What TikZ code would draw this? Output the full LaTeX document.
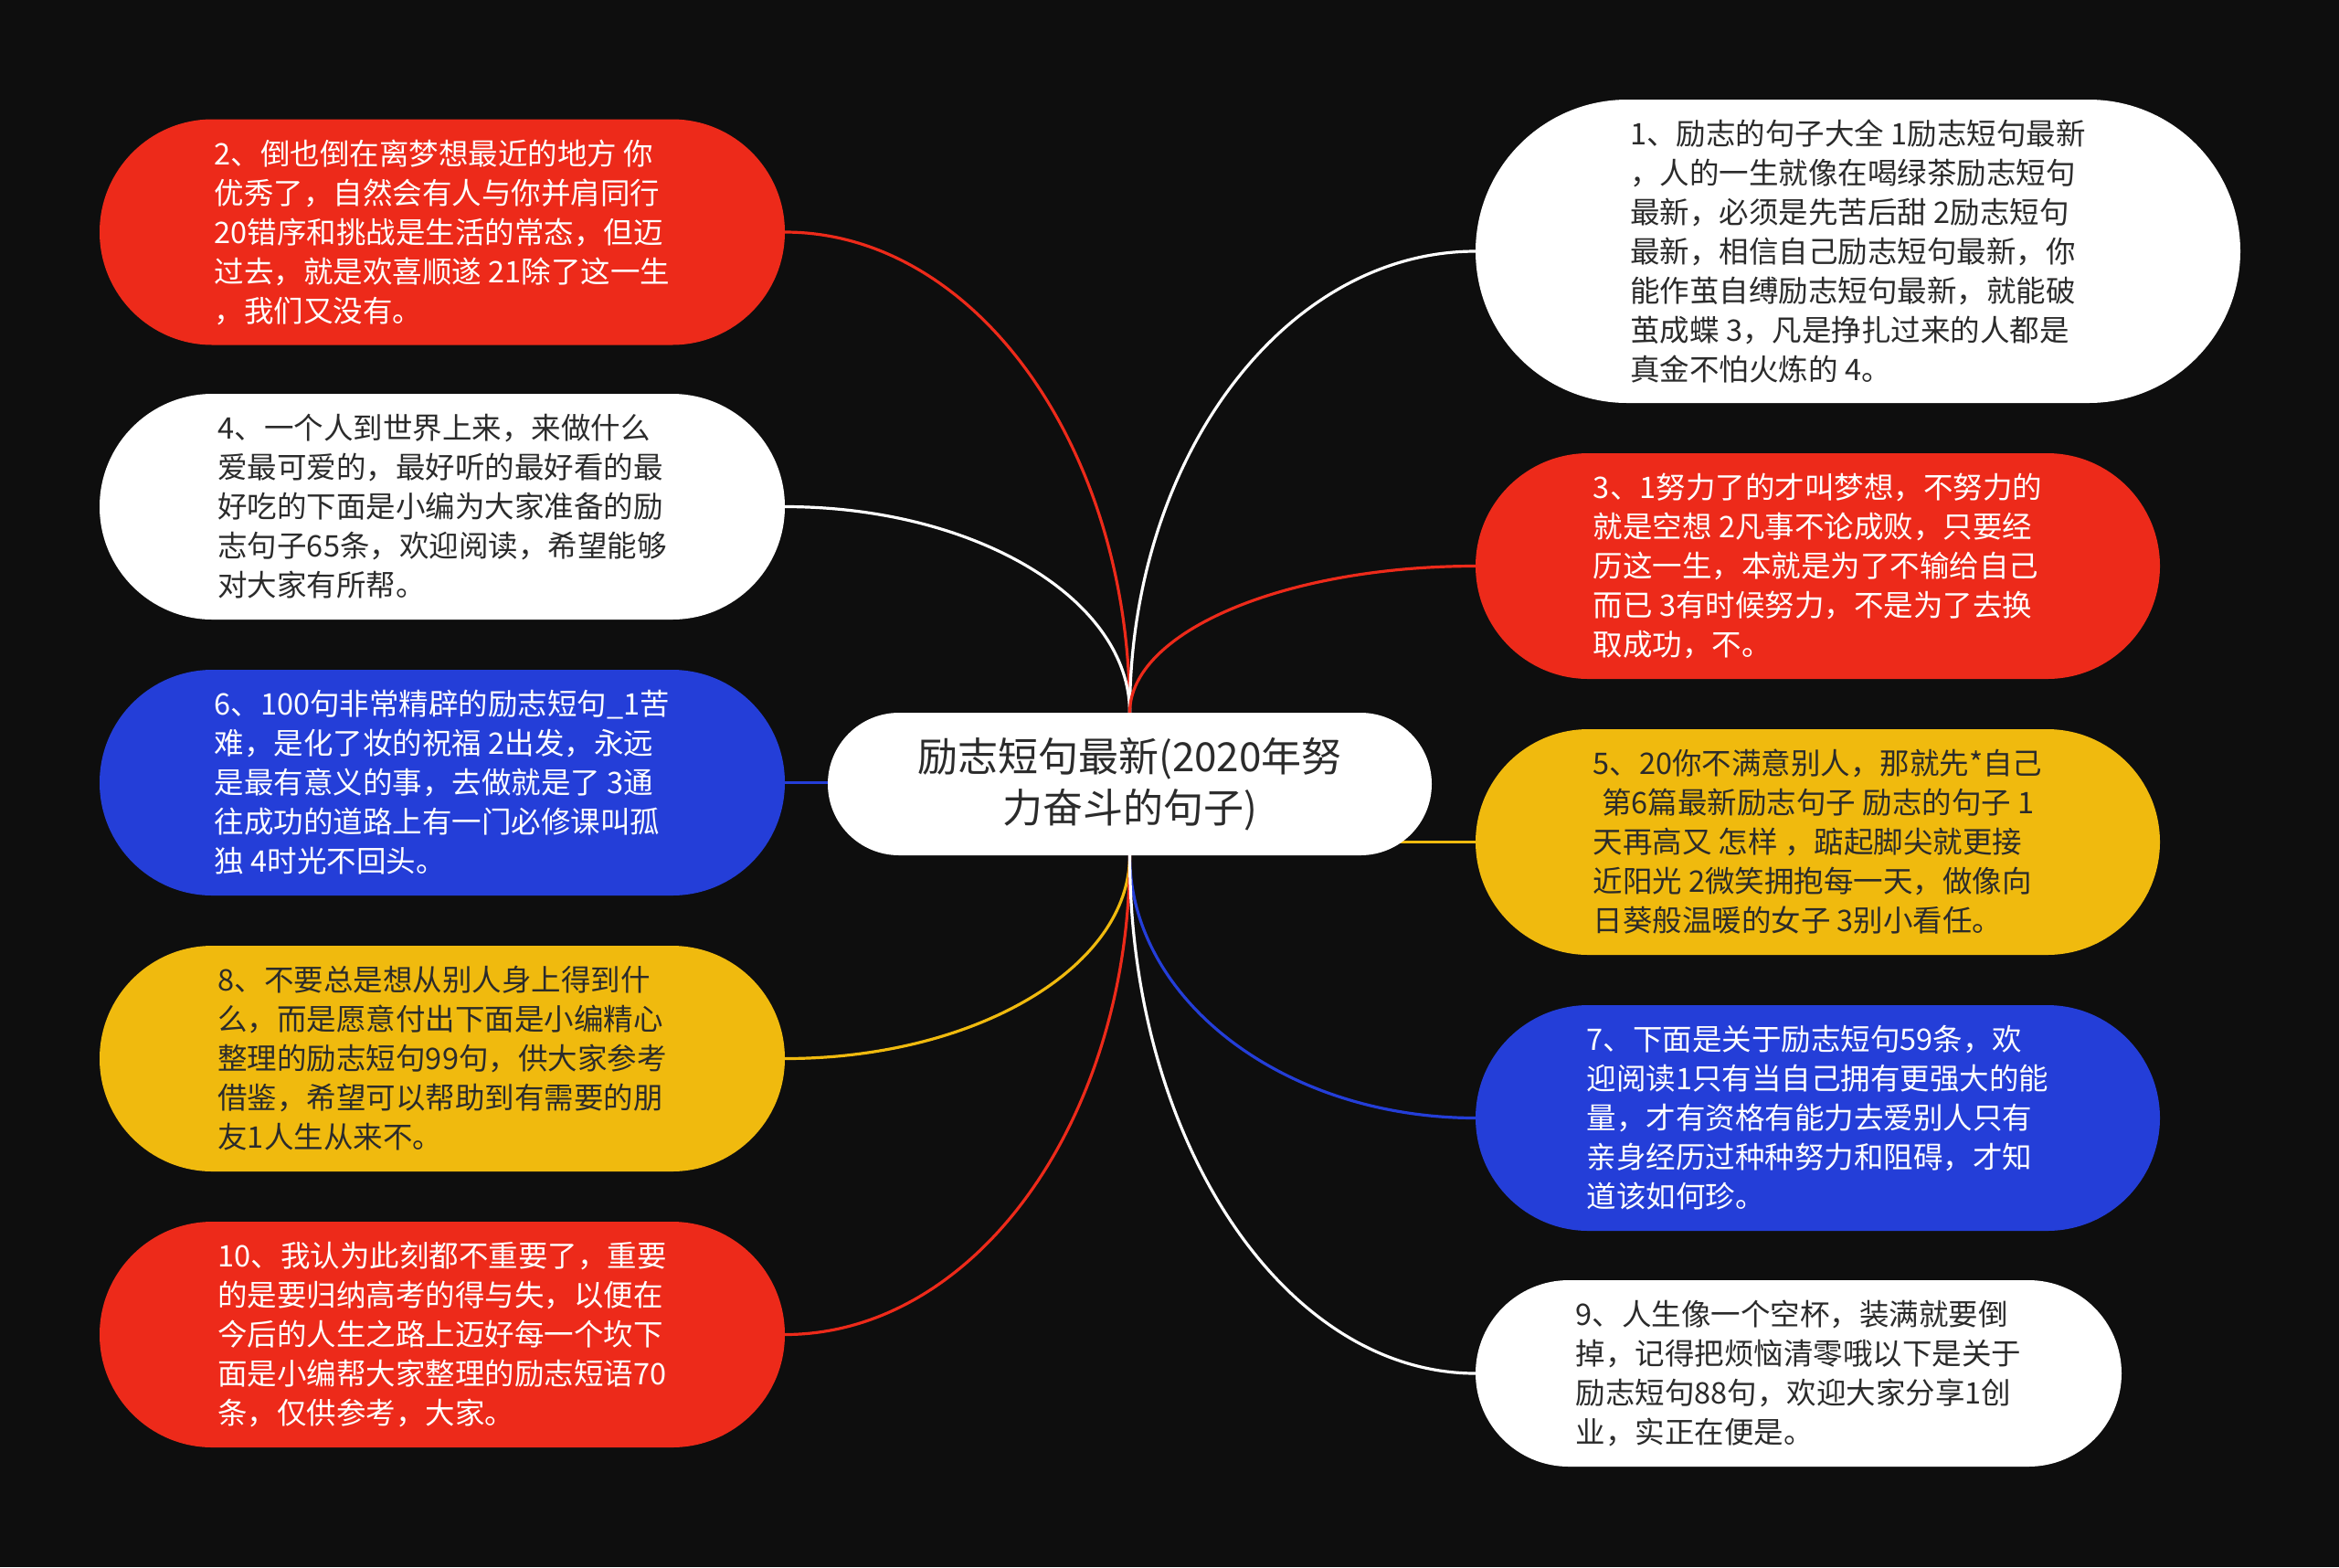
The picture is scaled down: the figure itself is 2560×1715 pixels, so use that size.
\documentclass[tikz,border=0pt]{standalone}
\usepackage{fontspec}
\newfontfamily\cjk{Noto Sans CJK SC}
\usetikzlibrary{shapes.misc,calc}
\pgfdeclarelayer{bg}
\pgfdeclarelayer{edges}
\pgfsetlayers{bg,edges,main}
\definecolor{mmbg}{RGB}{14,14,14}
\definecolor{mmred}{RGB}{237,42,26}
\definecolor{mmblue}{RGB}{36,62,216}
\definecolor{mmyellow}{RGB}{240,186,14}
\definecolor{mmdark}{RGB}{43,43,43}
\tikzset{
  pill/.style={rounded rectangle, inner sep=0pt, outer sep=0pt, align=left,
    font=\cjk\fontsize{16.25pt}{21.5pt}\selectfont},
  redpill/.style={pill, fill=mmred, text=white},
  bluepill/.style={pill, fill=mmblue, text=white},
  yellowpill/.style={pill, fill=mmyellow, text=mmdark},
  whitepill/.style={pill, fill=white, text=mmdark},
  link/.style={line width=1.6pt},
}
\newcommand\mmlink[3]{\draw[link,#1] (#2) .. controls ($(#2)!0.552!(#2|-#3)$) and ($(#3)!0.552!(#2|-#3)$) .. (#3);}
\begin{document}
\begin{tikzpicture}[x=0.5pt,y=-0.5pt]
\begin{pgfonlayer}{bg}
\fill[mmbg] (0,0) rectangle (2560,1715);
\end{pgfonlayer}
\useasboundingbox (0,0) rectangle (2560,1715);

% center
\node[rounded rectangle, inner sep=0pt, outer sep=0pt, fill=white, text=mmdark, align=center,
  minimum width=330.5pt, minimum height=78pt,
  font=\cjk\fontsize{22pt}{27.75pt}\selectfont] (c) at (1236.5,858)
  {励志短句最新(2020年努\\力奋斗的句子)};

% left
\node[redpill, minimum width=375pt, minimum height=123.5pt] (L2) at (484,254)
{2、倒也倒在离梦想最近的地方 你\\优秀了，自然会有人与你并肩同行\\20错序和挑战是生活的常态，但迈\\过去，就是欢喜顺遂 21除了这一生\\，我们又没有。};
\node[whitepill, minimum width=375pt, minimum height=123.5pt] (L4) at (484,554.5)
{4、一个人到世界上来，来做什么\\爱最可爱的，最好听的最好看的最\\好吃的下面是小编为大家准备的励\\志句子65条，欢迎阅读，希望能够\\对大家有所帮。};
\node[bluepill, minimum width=375pt, minimum height=123.5pt] (L6) at (484,856.5)
{6、100句非常精辟的励志短句\_1苦\\难，是化了妆的祝福 2出发，永远\\是最有意义的事，去做就是了 3通\\往成功的道路上有一门必修课叫孤\\独 4时光不回头。};
\node[yellowpill, minimum width=375pt, minimum height=123.5pt] (L8) at (484,1158.5)
{8、不要总是想从别人身上得到什\\么，而是愿意付出下面是小编精心\\整理的励志短句99句，供大家参考\\借鉴，希望可以帮助到有需要的朋\\友1人生从来不。};
\node[redpill, minimum width=375pt, minimum height=123.5pt] (L10) at (484,1460.5)
{10、我认为此刻都不重要了，重要\\的是要归纳高考的得与失，以便在\\今后的人生之路上迈好每一个坎下\\面是小编帮大家整理的励志短语70\\条，仅供参考，大家。};

% right
\node[whitepill, minimum width=418.5pt, minimum height=166pt] (R1) at (2033.5,275)
{1、励志的句子大全 1励志短句最新\\，人的一生就像在喝绿茶励志短句\\最新，必须是先苦后甜 2励志短句\\最新，相信自己励志短句最新，你\\能作茧自缚励志短句最新，就能破\\茧成蝶 3，凡是挣扎过来的人都是\\真金不怕火炼的 4。};
\node[redpill, minimum width=374.5pt, minimum height=123.5pt] (R3) at (1989.5,619.5)
{3、1努力了的才叫梦想，不努力的\\就是空想 2凡事不论成败，只要经\\历这一生，本就是为了不输给自己\\而已 3有时候努力，不是为了去换\\取成功，不。};
\node[yellowpill, minimum width=374.5pt, minimum height=123.5pt] (R5) at (1989.5,921.5)
{5、20你不满意别人，那就先*自己\\\hspace*{0.3em}第6篇最新励志句子 励志的句子 1\\天再高又 怎样 ，踮起脚尖就更接\\近阳光 2微笑拥抱每一天，做像向\\日葵般温暖的女子 3别小看任。};
\node[bluepill, minimum width=374.5pt, minimum height=123.5pt] (R7) at (1989.5,1223.5)
{7、下面是关于励志短句59条，欢\\迎阅读1只有当自己拥有更强大的能\\量，才有资格有能力去爱别人只有\\亲身经历过种种努力和阻碍，才知\\道该如何珍。};
\node[whitepill, minimum width=353.5pt, minimum height=102pt] (R9) at (1968.5,1503)
{9、人生像一个空杯，装满就要倒\\掉，记得把烦恼清零哦以下是关于\\励志短句88句，欢迎大家分享1创\\业，实正在便是。};

\begin{pgfonlayer}{edges}
\mmlink{mmred}{c.north}{L2.east}
\mmlink{white}{c.north}{L4.east}
\draw[link,mmblue] (c.center|-L6.east) -- (L6.east);
\mmlink{mmyellow}{c.south}{L8.east}
\mmlink{mmred}{c.south}{L10.east}
\mmlink{white}{c.north}{R1.west}
\mmlink{mmred}{c.north}{R3.west}
\draw[link,mmyellow] (c.center|-R5.west) -- (R5.west);
\mmlink{mmblue}{c.south}{R7.west}
\mmlink{white}{c.south}{R9.west}
\end{pgfonlayer}
\end{tikzpicture}
\end{document}
